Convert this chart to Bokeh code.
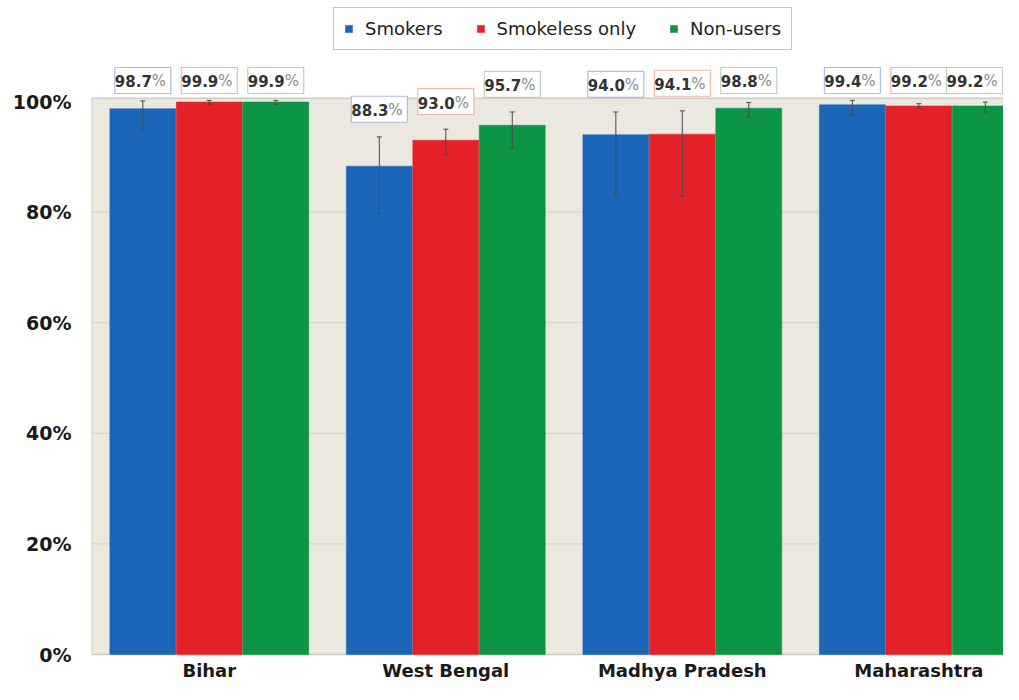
from bokeh.plotting import figure
from bokeh.models import (Range1d, FixedTicker, PrintfTickFormatter, ColumnDataSource,
                          Legend, LegendItem)
from bokeh.core.properties import value
from bokeh.embed import file_html
from bokeh.resources import INLINE

states = ["Bihar", "West Bengal", "Madhya Pradesh", "Maharashtra"]
series_names = ["Smokers", "Smokeless only", "Non-users"]
smokers = [98.7, 88.3, 94.0, 99.4]
smokeless = [99.9, 93.0, 94.1, 99.2]
nonusers = [99.9, 95.7, 98.8, 99.2]
smokers_lo = [94.9, 79.7, 83.1, 97.5]
smokers_hi = [100.1, 93.6, 98.1, 100.2]
smokeless_lo = [99.5, 90.4, 82.9, 98.8]
smokeless_hi = [100.2, 95.0, 98.3, 99.6]
nonusers_lo = [99.5, 91.6, 97.2, 98.1]
nonusers_hi = [100.2, 98.1, 99.8, 99.9]
y_ticks = [0, 20, 40, 60, 80, 100]

colors = ["#1c66ba", "#e42128", "#0d9546"]
box_colors = ["#aebde3", "#f4b6a4", "#b9d3b9"]
values_all = [smokers, smokeless, nonusers]
lo_all = [smokers_lo, smokeless_lo, nonusers_lo]
hi_all = [smokers_hi, smokeless_hi, nonusers_hi]
offsets = [-0.281, 0.0, 0.281]
bar_w = 0.279

W, H = 1003, 684
LEFT = 91
XS, XE = -0.498, 3.358
PX_PER_PCT = 5.53
ZERO_PX = 654          # figure-y of the 0% line
YS = -(H - ZERO_PX) / PX_PER_PCT
YE = ZERO_PX / PX_PER_PCT
PLOT_TOP = 100.6
BOX_W = 56
px_per_unit = (W - LEFT) / (XE - XS)
label_xmax = XE - (BOX_W / 2 + 1) / px_per_unit

p = figure(width=W, height=H, output_backend="svg", toolbar_location=None,
           x_range=Range1d(XS, XE), y_range=Range1d(YS, YE),
           min_border_left=LEFT, min_border_right=0, min_border_top=0, min_border_bottom=0)
p.background_fill_color = "white"
p.border_fill_color = "white"
p.outline_line_color = None
p.xgrid.visible = False
p.ygrid.visible = False
p.xaxis.visible = False

# plot-area background
p.quad(left=[XS], right=[XE], bottom=[0], top=[PLOT_TOP], fill_color="#ebe8e0",
       line_color="#cfccc4", line_width=1.5)
# gridlines
grid_y = y_ticks[1:-1]
p.segment(x0=[XS] * len(grid_y), x1=[XE] * len(grid_y), y0=grid_y, y1=grid_y,
          line_color="#d4d1c9", line_width=1)

font = "DejaVu Sans"
legend_items = []
for k in range(3):
    xs = [i + offsets[k] for i in range(len(states))]
    src = ColumnDataSource(dict(x=xs, top=values_all[k], lo=lo_all[k], hi=hi_all[k],
                                lx=[min(x, label_xmax) for x in xs],
                                ly=[min(h + 5, 103.8) for h in hi_all[k]],
                                num=["%.1f" % v for v in values_all[k]],
                                pct=["%"] * len(states)))
    r = p.vbar(x="x", top="top", bottom=0, width=bar_w, source=src,
               fill_color=colors[k], line_color=colors[k], line_width=0.5)
    legend_items.append(LegendItem(label=series_names[k], renderers=[r]))
    # error bars
    p.segment(x0="x", x1="x", y0="lo", y1="hi", source=src, line_color="#4a4a4a", line_width=1)
    p.dash(x="x", y="hi", size=5, source=src, line_color="#4a4a4a", line_width=1)
    p.dash(x="x", y="lo", size=5, source=src, line_color="#4a4a4a", line_width=1)
    # value labels
    p.rect(x="lx", y="ly", width=BOX_W, height=26, width_units="screen", height_units="screen",
           source=src, fill_color="white", line_color=box_colors[k], line_width=1.2)
    p.text(x="lx", y="ly", text="num", source=src, text_align="right", text_baseline="middle",
           x_offset=9, y_offset=1, text_font=value(font), text_font_style="bold",
           text_font_size="15px", text_color="#333333")
    p.text(x="lx", y="ly", text="pct", source=src, text_align="left", text_baseline="middle",
           x_offset=9, y_offset=1, text_font=value(font), text_font_style="normal",
           text_font_size="15px", text_color="#8a8a8a")

# category labels under the bars
cat_src = ColumnDataSource(dict(x=list(range(len(states))), y=[0] * len(states), t=states))
p.text(x="x", y="y", text="t", source=cat_src, text_align="center",
       text_baseline="middle", y_offset=16, text_font=value(font),
       text_font_style="bold", text_font_size="18px", text_color="#1a1a1a")

legend = Legend(items=legend_items, location=(242, H - 50), orientation="horizontal",
                glyph_width=9, glyph_height=9, label_standoff=12, spacing=33, padding=10,
                margin=0, border_line_color="#8c8c8c", border_line_width=1.2,
                background_fill_color="white", background_fill_alpha=1.0,
                label_text_font=font, label_text_font_size="18px", label_text_color="#222222")
p.add_layout(legend, "center")

# y axis
p.yaxis.ticker = FixedTicker(ticks=y_ticks)
p.yaxis.formatter = PrintfTickFormatter(format="%d%%")
p.yaxis.axis_line_color = None
p.yaxis.major_tick_line_color = None
p.yaxis.minor_tick_line_color = None
p.yaxis.major_tick_out = 0
p.yaxis.major_tick_in = 0
p.yaxis.minor_tick_out = 0
p.yaxis.major_label_text_font = font
p.yaxis.major_label_text_font_style = "bold"
p.yaxis.major_label_text_color = "#1a1a1a"
p.yaxis.major_label_text_font_size = "19px"
p.yaxis.major_label_standoff = 20

open("out.html", "w").write(file_html(p, INLINE))
